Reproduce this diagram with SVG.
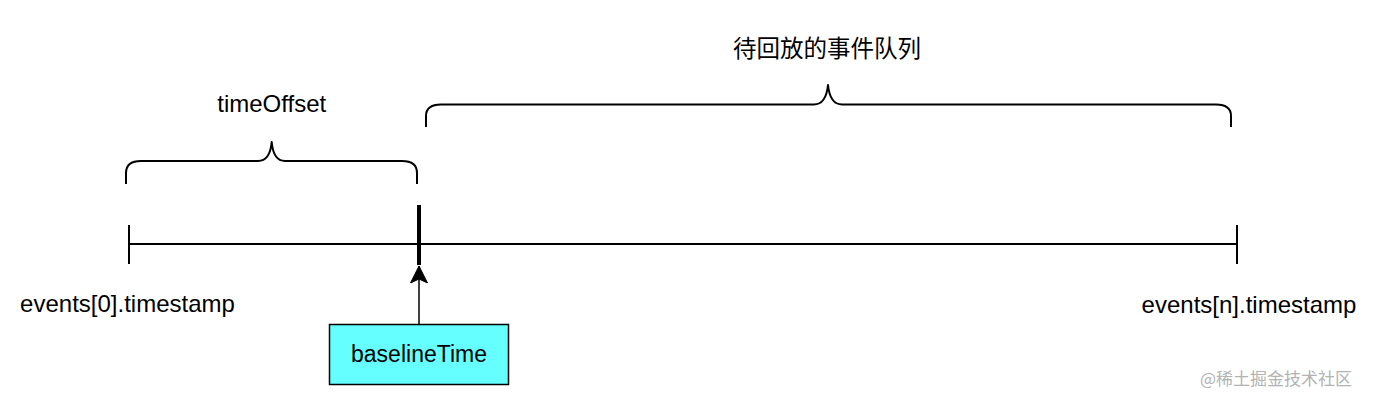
<svg xmlns="http://www.w3.org/2000/svg" width="1374" height="402" viewBox="0 0 1374 402">
<defs>
<style>
.t{font-family:"Liberation Sans",Arial,Helvetica,sans-serif;font-size:24px;fill:#000;text-anchor:middle}
.cjk{font-family:"Noto Sans CJK SC","Liberation Sans",sans-serif;font-size:23.5px;fill:#000;text-anchor:middle}
.ln{stroke:#000;stroke-width:2;fill:none}
.br{stroke:#000;stroke-width:2;fill:none;stroke-linejoin:round}
</style>
<marker id="arr" markerWidth="18" markerHeight="18" viewBox="0 0 18 18" refX="17" refY="9" orient="auto" markerUnits="userSpaceOnUse">
<path d="M17,9 L0,0.5 L4,9 L0,17.5 Z" fill="#000" stroke="#000" stroke-width="1"/>
</marker>
</defs>
<rect width="1374" height="402" fill="#fff"/>
<g id="timeline">
<line class="ln" x1="129" y1="244" x2="1237" y2="244"/>
<line class="ln" x1="129" y1="225" x2="129" y2="264"/>
<line class="ln" x1="1237" y1="225" x2="1237" y2="264"/>
<line x1="419" y1="205" x2="419" y2="265" stroke="#000" stroke-width="4"/>
</g>
<g id="brace-timeOffset">
<path class="br" d="M126,184 L126,173 Q126,161 141,161 L258,161 Q270,161 271.7,142 Q273.4,161 285,161 L402,161 Q417,161 417,173 L417,184"/>
<text class="t" x="271.7" y="112">timeOffset</text>
</g>
<g id="brace-queue">
<path class="br" d="M426,127 L426,116 Q426,104.5 441,104.5 L814,104.5 Q826,104.5 828,85 Q830,104.5 842,104.5 L1216,104.5 Q1231,104.5 1231,116 L1231,127"/>
<text class="cjk" x="827" y="57">待回放的事件队列</text>
</g>
<g id="label-start">
<text class="t" x="127.5" y="312">events[0].timestamp</text>
</g>
<g id="label-end">
<text class="t" x="1249" y="312.5">events[n].timestamp</text>
</g>
<g id="baselineTime">
<rect x="329.5" y="324.5" width="179" height="60" fill="#66FFFF" stroke="#000" stroke-width="1.5"/>
<text class="t" x="419" y="362" style="font-size:23px">baselineTime</text>
</g>
<g id="connectors">
<line x1="419" y1="324" x2="419" y2="266" stroke="#000" stroke-width="1.5" marker-end="url(#arr)"/>
</g>
<text x="1200" y="385" style="font-family:'Noto Sans CJK SC','Liberation Sans',sans-serif;font-size:17px;fill:#b3b3b3">@稀土掘金技术社区</text>
</svg>
